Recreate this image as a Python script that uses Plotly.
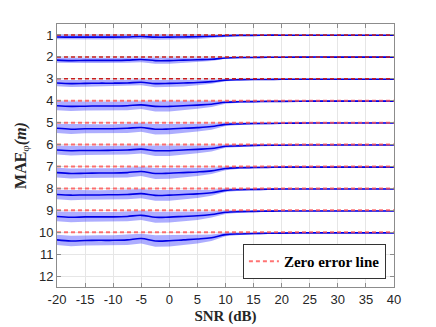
import plotly.graph_objects as go

# SNR grid (dB)
snr = [-20, -17.5, -15, -12.5, -10, -7.5, -5, -2.5, 0, 2.5, 5, 7.5, 10, 12.5, 15, 17.5, 20, 25, 30, 35, 40]

# zero-error levels (one per curve)
levels = [1, 2, 3, 4, 5, 6, 7, 8, 9, 10]

# mean error above each zero line
mae_1 = [0.09, 0.10, 0.10, 0.10, 0.10, 0.09, 0.07, 0.10, 0.10, 0.09, 0.08, 0.06, 0.03, 0.02, 0.02, 0.01, 0.01, 0.01, 0.01, 0.01, 0.01]
mae_2 = [0.15, 0.17, 0.16, 0.16, 0.16, 0.15, 0.12, 0.17, 0.17, 0.15, 0.13, 0.11, 0.05, 0.03, 0.03, 0.02, 0.02, 0.01, 0.01, 0.01, 0.01]
mae_3 = [0.19, 0.22, 0.21, 0.20, 0.20, 0.19, 0.16, 0.22, 0.21, 0.19, 0.17, 0.13, 0.06, 0.04, 0.03, 0.03, 0.02, 0.02, 0.02, 0.02, 0.02]
mae_4 = [0.23, 0.26, 0.25, 0.24, 0.24, 0.23, 0.19, 0.26, 0.26, 0.23, 0.20, 0.16, 0.07, 0.05, 0.04, 0.03, 0.03, 0.02, 0.02, 0.02, 0.02]
mae_5 = [0.26, 0.30, 0.28, 0.28, 0.28, 0.26, 0.22, 0.30, 0.29, 0.26, 0.23, 0.18, 0.08, 0.06, 0.04, 0.04, 0.03, 0.02, 0.02, 0.02, 0.02]
mae_6 = [0.25, 0.28, 0.27, 0.27, 0.26, 0.25, 0.21, 0.28, 0.28, 0.25, 0.22, 0.18, 0.08, 0.06, 0.04, 0.03, 0.03, 0.02, 0.02, 0.02, 0.02]
mae_7 = [0.28, 0.32, 0.31, 0.30, 0.30, 0.28, 0.23, 0.32, 0.31, 0.28, 0.25, 0.20, 0.09, 0.06, 0.05, 0.04, 0.03, 0.03, 0.03, 0.03, 0.03]
mae_8 = [0.28, 0.31, 0.30, 0.30, 0.29, 0.28, 0.24, 0.32, 0.31, 0.28, 0.25, 0.20, 0.09, 0.06, 0.05, 0.04, 0.03, 0.03, 0.03, 0.03, 0.03]
mae_9 = [0.28, 0.32, 0.30, 0.30, 0.30, 0.28, 0.23, 0.32, 0.31, 0.28, 0.25, 0.19, 0.09, 0.06, 0.05, 0.04, 0.03, 0.03, 0.03, 0.03, 0.03]
mae_10 = [0.35, 0.40, 0.38, 0.37, 0.37, 0.35, 0.29, 0.40, 0.39, 0.35, 0.31, 0.25, 0.11, 0.08, 0.06, 0.05, 0.04, 0.03, 0.03, 0.03, 0.03]

# half-width of the shaded band
std_1 = [0.11, 0.11, 0.11, 0.11, 0.11, 0.11, 0.11, 0.12, 0.12, 0.11, 0.10, 0.07, 0.04, 0.03, 0.02, 0.02, 0.01, 0.01, 0.01, 0.01, 0.01]
std_2 = [0.12, 0.12, 0.12, 0.12, 0.12, 0.12, 0.12, 0.14, 0.14, 0.12, 0.10, 0.08, 0.04, 0.03, 0.02, 0.02, 0.01, 0.01, 0.01, 0.01, 0.01]
std_3 = [0.15, 0.16, 0.15, 0.15, 0.15, 0.15, 0.14, 0.17, 0.17, 0.16, 0.13, 0.10, 0.05, 0.03, 0.03, 0.02, 0.01, 0.01, 0.01, 0.01, 0.01]
std_4 = [0.20, 0.21, 0.20, 0.20, 0.20, 0.20, 0.19, 0.23, 0.23, 0.21, 0.17, 0.13, 0.07, 0.04, 0.03, 0.03, 0.02, 0.02, 0.02, 0.02, 0.02]
std_5 = [0.21, 0.22, 0.21, 0.21, 0.21, 0.21, 0.20, 0.24, 0.24, 0.22, 0.18, 0.14, 0.07, 0.05, 0.04, 0.03, 0.02, 0.02, 0.02, 0.02, 0.02]
std_6 = [0.21, 0.22, 0.21, 0.21, 0.21, 0.21, 0.20, 0.24, 0.24, 0.22, 0.18, 0.14, 0.07, 0.05, 0.04, 0.03, 0.02, 0.02, 0.02, 0.02, 0.02]
std_7 = [0.22, 0.23, 0.22, 0.22, 0.22, 0.22, 0.21, 0.25, 0.25, 0.23, 0.19, 0.14, 0.08, 0.05, 0.04, 0.03, 0.02, 0.02, 0.02, 0.02, 0.02]
std_8 = [0.22, 0.23, 0.22, 0.22, 0.22, 0.22, 0.21, 0.25, 0.25, 0.23, 0.19, 0.14, 0.08, 0.05, 0.04, 0.03, 0.02, 0.02, 0.02, 0.02, 0.02]
std_9 = [0.22, 0.23, 0.22, 0.22, 0.22, 0.22, 0.21, 0.25, 0.25, 0.23, 0.19, 0.14, 0.08, 0.05, 0.04, 0.03, 0.02, 0.02, 0.02, 0.02, 0.02]
std_10 = [0.23, 0.24, 0.23, 0.23, 0.23, 0.23, 0.22, 0.26, 0.26, 0.24, 0.20, 0.15, 0.08, 0.05, 0.04, 0.03, 0.02, 0.02, 0.02, 0.02, 0.02]

x_ticks = [-20, -15, -10, -5, 0, 5, 10, 15, 20, 25, 30, 35, 40]
x_labels = ['-20', '-15', '-10', '-5', '0', '5', '10', '15', '20', '25', '30', '35', '40']
y_ticks = [1, 2, 3, 4, 5, 6, 7, 8, 9, 10, 11, 12]

maes = [mae_1, mae_2, mae_3, mae_4, mae_5, mae_6, mae_7, mae_8, mae_9, mae_10]
stds = [std_1, std_2, std_3, std_4, std_5, std_6, std_7, std_8, std_9, std_10]

fig = go.Figure()

# shaded spread bands
for lev, m, s in zip(levels, maes, stds):
    mean = [lev + v for v in m]
    upper = [a + b for a, b in zip(mean, s)]
    lower = [a - b for a, b in zip(mean, s)]
    fig.add_trace(go.Scatter(x=snr + snr[::-1], y=upper + lower[::-1], fill='toself',
                             fillcolor='rgba(60,60,255,0.42)', line=dict(width=0),
                             mode='lines', showlegend=False, hoverinfo='skip'))

# mean error curves
for lev, m in zip(levels, maes):
    mean = [lev + v for v in m]
    fig.add_trace(go.Scatter(x=snr, y=mean, mode='lines', line=dict(color='#0000e6', width=1.6),
                             line_shape='spline', showlegend=False))

# zero error lines
for i, lev in enumerate(levels):
    col = '#c81e1e' if lev <= 3 else 'rgba(255,80,80,0.8)'
    fig.add_trace(go.Scatter(x=[snr[0], snr[-1]], y=[lev, lev], mode='lines',
                             line=dict(color=col, width=1.5 if lev <= 3 else 2, dash='4px,3px'),
                             name='<b>Zero error line</b>', showlegend=(i == 3)))

axis_common = dict(showline=True, linecolor='#8c8c8c', linewidth=1, mirror='ticks',
                   ticks='inside', ticklen=4, tickcolor='#8c8c8c', automargin=False,
                   showgrid=True, gridcolor='#e6e6e6', zeroline=False,
                   tickfont=dict(family='Liberation Sans, Arial', size=13, color='#262626'))

fig.update_xaxes(range=[-20, 40], tickvals=x_ticks, ticktext=x_labels,
                 title=dict(text='<b>SNR (dB)</b>', standoff=4,
                            font=dict(family='Liberation Serif, Times New Roman', size=15, color='#262626')),
                 **axis_common)
fig.update_yaxes(range=[12.5, 0.5], tickvals=y_ticks,
                 title=dict(text='<b>MAE</b><sub>φ</sub><b><i>(m)</i></b>', standoff=8,
                            font=dict(family='Liberation Serif, Times New Roman', size=16, color='#262626')),
                 **axis_common)

# page body adds 8px offset, so the figure is sized/margined to compensate
fig.update_layout(
    width=428, height=319,
    margin=dict(l=49, r=42, t=16, b=40),
    paper_bgcolor='white', plot_bgcolor='white',
    legend=dict(x=0.976, y=0.03, xanchor='right', yanchor='bottom',
                bgcolor='white', bordercolor='#333333', borderwidth=1,
                font=dict(family='Liberation Serif, Times New Roman', size=15, color='black'),
                itemwidth=30),
)

fig.write_html("out.html")
